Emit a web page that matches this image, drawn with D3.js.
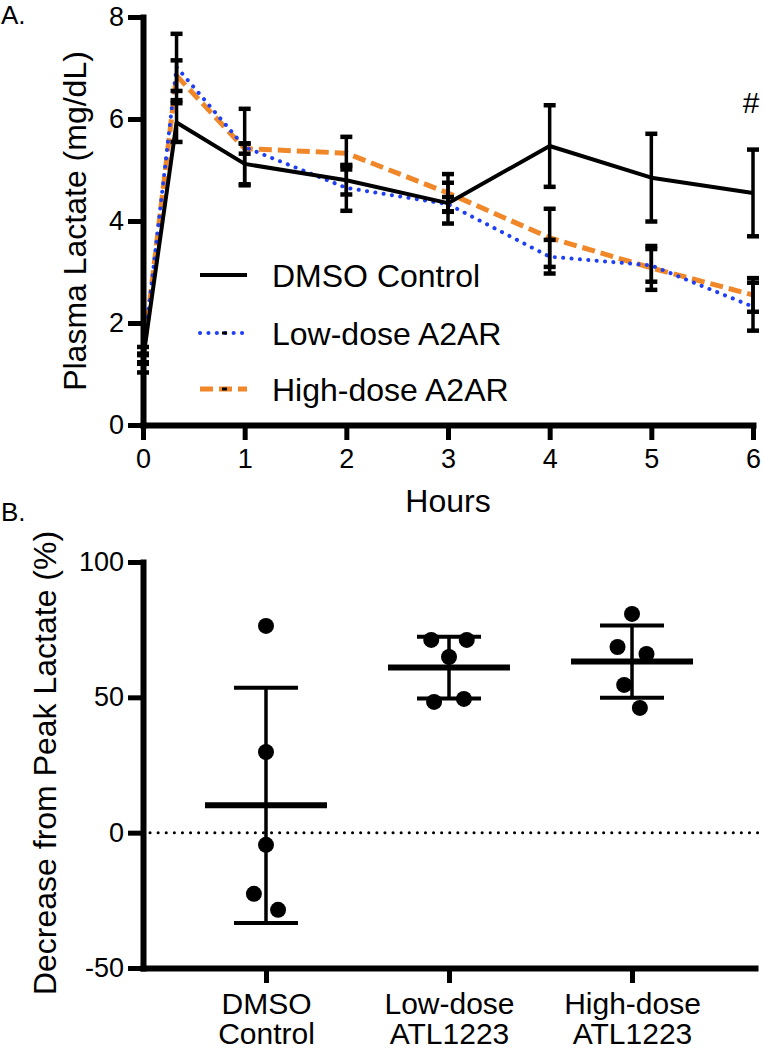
<!DOCTYPE html>
<html><head><meta charset="utf-8">
<script src="https://cdn.jsdelivr.net/npm/d3@7/dist/d3.min.js"></script>
<style>
html,body{margin:0;padding:0;background:#fff;}
svg{display:block;font-family:"Liberation Sans",Arial,Helvetica,sans-serif;}
</style></head>
<body><svg id="c" width="764" height="1050"></svg>
<script>
// ---------- Panel A data ----------
const hours = [0, 0.33, 1, 2, 3, 4, 5, 6];
const dmsoMean = [1.28, 5.93, 5.12, 4.80, 4.35, 5.47, 4.85, 4.55];
const dmsoErr  = [0.25, 0.38, 0.40, 0.28, 0.40, 0.80, 0.86, 0.85];
const lowMean  = [1.30, 7.02, 5.45, 4.65, 4.33, 3.30, 3.13, 2.32];
const lowErr   = [0.10, 0.65, 0.75, 0.45, 0.14, 0.33, 0.32, 0.47];
const highMean = [1.30, 6.85, 5.42, 5.33, 4.55, 3.67, 3.08, 2.55];
const highErr  = [0.07, 0.30, 0.10, 0.32, 0.37, 0.57, 0.43, 0.33];
const seriesNames = ["DMSO Control", "Low-dose A2AR", "High-dose A2AR"];
const xTicksA = [0, 1, 2, 3, 4, 5, 6];
const yTicksA = [0, 2, 4, 6, 8];

// ---------- Panel B data ----------
const groups = ["DMSO Control", "Low-dose ATL1223", "High-dose ATL1223"];
const groupLabels = [["DMSO", "Control"], ["Low-dose", "ATL1223"], ["High-dose", "ATL1223"]];
const dmsoDecrease = [76.4, 29.8, -4.5, -22.6, -28.5];
const lowDecrease  = [71.2, 71.2, 64.9, 48.3, 49.4];
const highDecrease = [80.8, 68.6, 66.0, 54.6, 46.1];
const yTicksB = [-50, 0, 50, 100];

const svg = d3.select("#c");
const BLUE = "#1f3ff5", ORANGE = "#f0882a";
const fmt = d => String(d);

// ================= Panel A =================
const xA = d3.scaleLinear().domain([0, 6]).range([143, 753]);
const yA = d3.scaleLinear().domain([0, 8]).range([425, 17]);

svg.append("text").attr("x", 1).attr("y", 24).attr("font-size", 26).text("A.");

const gA = svg.append("g");
const series = [
  {name: seriesNames[2], mean: highMean, err: highErr, color: ORANGE, width: 5, dash: "13 6", cap: "butt"},
  {name: seriesNames[1], mean: lowMean, err: lowErr, color: BLUE, width: 4, dash: "0.1 8.3", cap: "round"},
  {name: seriesNames[0], mean: dmsoMean, err: dmsoErr, color: "#000", width: 4, dash: null, cap: "butt"}
];
const line = d3.line().x(d => xA(d[0])).y(d => yA(d[1]));
series.forEach(s => {
  gA.append("path")
    .datum(hours.map((h, i) => [h, s.mean[i]]))
    .attr("d", line).attr("fill", "none")
    .attr("stroke", s.color).attr("stroke-width", s.width)
    .attr("stroke-dasharray", s.dash).attr("stroke-linecap", s.cap)
    .attr("stroke-linejoin", "round");
});

// axes A
const axA_y = d3.axisLeft(yA).tickValues(yTicksA).tickFormat(fmt).tickSize(15).tickPadding(4).tickSizeOuter(0);
const axA_x = d3.axisBottom(xA).tickValues(xTicksA).tickFormat(fmt).tickSize(15).tickPadding(9).tickSizeOuter(0);
function styleAxis(g, fs) {
  g.select(".domain").attr("stroke-width", 6).attr("stroke-linecap", "square");
  g.selectAll(".tick line").attr("stroke-width", 5);
  g.selectAll(".tick text").attr("font-size", fs).attr("fill", "#000")
    .attr("font-family", "Liberation Sans, Arial, sans-serif");
}
svg.append("g").attr("transform", "translate(143,0)").call(axA_y).call(g => styleAxis(g, 27));
svg.append("g").attr("transform", "translate(0,425)").call(axA_x).call(g => styleAxis(g, 27));

// error bars (drawn on top)
series.forEach(s => {
  hours.forEach((h, i) => {
    const x = xA(h), y1 = yA(s.mean[i] + s.err[i]), y2 = yA(s.mean[i] - s.err[i]);
    gA.append("line").attr("x1", x).attr("x2", x).attr("y1", y1).attr("y2", y2)
      .attr("stroke", "#000").attr("stroke-width", 3.5);
    [y1, y2].forEach(yy => gA.append("line").attr("x1", x - 6).attr("x2", x + 6)
      .attr("y1", yy).attr("y2", yy).attr("stroke", "#000").attr("stroke-width", 4.5));
  });
});

svg.append("text").attr("x", 751).attr("y", 113).attr("text-anchor", "middle")
  .attr("font-size", 30).text("#");

svg.append("text").attr("transform", "translate(86,221) rotate(-90)")
  .attr("text-anchor", "middle").attr("font-size", 32).text("Plasma Lactate (mg/dL)");
svg.append("text").attr("x", 448).attr("y", 512).attr("text-anchor", "middle")
  .attr("font-size", 32).text("Hours");

// legend
const legY = [275, 333, 389];
[series[2], series[1], series[0]].forEach((s, i) => {
  const g = svg.append("g").attr("transform", `translate(0,${legY[i]})`);
  g.append("line").attr("x1", 200).attr("x2", 247).attr("y1", 0).attr("y2", 0)
    .attr("stroke", s.color).attr("stroke-width", s.width)
    .attr("stroke-dasharray", s.dash).attr("stroke-linecap", s.cap);
  if (i > 0) g.append("rect").attr("x", 222).attr("y", -1.5).attr("width", 5).attr("height", 3).attr("fill", "#000");
  g.append("text").attr("x", 272).attr("y", 12).attr("font-size", 32).text(s.name);
});

// ================= Panel B =================
const xB = d3.scalePoint().domain(groups).range([143, 755]).padding(0.672);
const yB = d3.scaleLinear().domain([-50, 100]).range([968, 562]);

svg.append("text").attr("x", 1).attr("y", 521).attr("font-size", 26).text("B.");

// zero reference line
svg.append("line").attr("x1", 150).attr("x2", 762).attr("y1", yB(0)).attr("y2", yB(0))
  .attr("stroke", "#000").attr("stroke-width", 3).attr("stroke-dasharray", "0.1 8")
  .attr("stroke-linecap", "round");

const axB_y = d3.axisLeft(yB).tickValues(yTicksB).tickFormat(fmt).tickSize(15).tickPadding(4).tickSizeOuter(0);
svg.append("g").attr("transform", "translate(143,0)").call(axB_y).call(g => styleAxis(g, 27));
const axB_x = d3.axisBottom(xB).tickSize(15).tickSizeOuter(0).tickFormat(() => "");
const gx = svg.append("g").attr("transform", `translate(0,${yB(-50)})`).call(axB_x).call(g => styleAxis(g, 27));
gx.selectAll(".tick").each(function(d, i) {
  const t = d3.select(this).append("text").attr("fill", "#000").attr("font-size", 30)
    .attr("text-anchor", "middle").attr("font-family", "Liberation Sans, Arial, sans-serif");
  groupLabels[i].forEach((l, k) => t.append("tspan").attr("x", 0).attr("y", 46 + k * 30).text(l));
});

svg.append("text").attr("transform", "translate(56,763) rotate(-90)")
  .attr("text-anchor", "middle").attr("font-size", 32).text("Decrease from Peak Lactate (%)");

const gB = svg.append("g");
[dmsoDecrease, lowDecrease, highDecrease].forEach((vals, gi) => {
  const cx = xB(groups[gi]);
  const m = d3.mean(vals), sd = d3.deviation(vals);
  // beeswarm via force
  const nodes = vals.map(v => ({x: cx, y: yB(v), ty: yB(v)}));
  const sim = d3.forceSimulation(nodes)
    .force("x", d3.forceX(cx).strength(0.1))
    .force("y", d3.forceY(d => d.ty).strength(1))
    .force("c", d3.forceCollide(15).iterations(3)).stop();
  for (let k = 0; k < 300; k++) sim.tick();
  gB.selectAll(null).data(nodes).join("circle")
    .attr("cx", d => d.x).attr("cy", d => d.ty).attr("r", 8).attr("fill", "#000");
  // SD bar
  gB.append("line").attr("x1", cx).attr("x2", cx).attr("y1", yB(m + sd)).attr("y2", yB(m - sd))
    .attr("stroke", "#000").attr("stroke-width", 3.5);
  [m + sd, m - sd].forEach(v => gB.append("line").attr("x1", cx - 32).attr("x2", cx + 32)
    .attr("y1", yB(v)).attr("y2", yB(v)).attr("stroke", "#000").attr("stroke-width", 4));
  gB.append("line").attr("x1", cx - 61).attr("x2", cx + 61).attr("y1", yB(m)).attr("y2", yB(m))
    .attr("stroke", "#000").attr("stroke-width", 6);
});
</script></body></html>
